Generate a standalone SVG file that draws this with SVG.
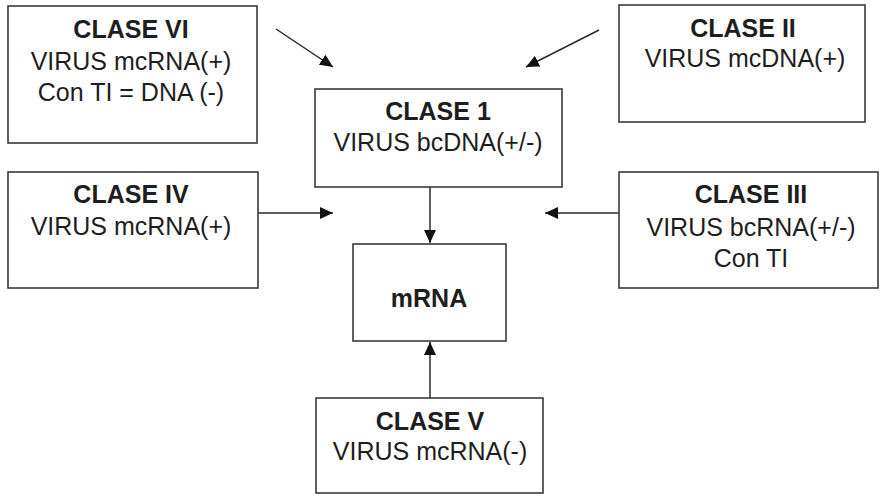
<svg xmlns="http://www.w3.org/2000/svg" width="881" height="496" viewBox="0 0 881 496">
<style>
.box{fill:#fff;stroke:#3a3a3a;stroke-width:1.6}
.t{font-family:"Liberation Sans",Arial,sans-serif;font-size:25px;fill:#1e1e1e;text-anchor:middle}
.b{font-weight:bold}
.c{stroke:#2a2a2a;stroke-width:1.5;fill:none;marker-end:url(#ah)}
</style>
<defs>
<marker id="ah" markerUnits="userSpaceOnUse" markerWidth="14" markerHeight="12" refX="13" refY="6" orient="auto">
<path d="M0,0 L13,6 L0,12 Z" fill="#111"/>
</marker>
</defs>
<rect width="881" height="496" fill="#fff"/>
<g id="connectors">
<line class="c" x1="276" y1="29" x2="333" y2="67"/>
<line class="c" x1="599" y1="30" x2="526" y2="67"/>
<line class="c" x1="430" y1="187" x2="430" y2="243"/>
<line class="c" x1="258" y1="213" x2="333" y2="213"/>
<line class="c" x1="619" y1="213" x2="545" y2="213"/>
<line class="c" x1="430" y1="398" x2="430" y2="342"/>
</g>
<g id="clase6">
<rect class="box" x="8" y="6" width="249" height="137"/>
<text class="t b" x="131" y="38">CLASE VI</text>
<text class="t" x="131" y="70">VIRUS mcRNA(+)</text>
<text class="t" x="131" y="101">Con TI = DNA (-)</text>
</g>
<g id="clase2">
<rect class="box" x="619" y="5" width="246" height="117"/>
<text class="t b" x="743" y="37">CLASE II</text>
<text class="t" x="745" y="67">VIRUS mcDNA(+)</text>
</g>
<g id="clase1">
<rect class="box" x="315" y="89" width="247" height="98"/>
<text class="t b" x="438" y="120">CLASE 1</text>
<text class="t" x="438" y="151">VIRUS bcDNA(+/-)</text>
</g>
<g id="clase4">
<rect class="box" x="8" y="172" width="250" height="116"/>
<text class="t b" x="131" y="203">CLASE IV</text>
<text class="t" x="131" y="235">VIRUS mcRNA(+)</text>
</g>
<g id="clase3">
<rect class="box" x="619" y="172" width="259" height="116"/>
<text class="t b" x="751" y="203">CLASE III</text>
<text class="t" x="751" y="236">VIRUS bcRNA(+/-)</text>
<text class="t" x="751" y="267">Con TI</text>
</g>
<g id="mrna">
<rect class="box" x="353" y="244" width="153" height="97"/>
<text class="t b" x="429" y="307">mRNA</text>
</g>
<g id="clase5">
<rect class="box" x="316" y="398" width="227" height="95"/>
<text class="t b" x="430" y="430">CLASE V</text>
<text class="t" x="430" y="460">VIRUS mcRNA(-)</text>
</g>
</svg>
